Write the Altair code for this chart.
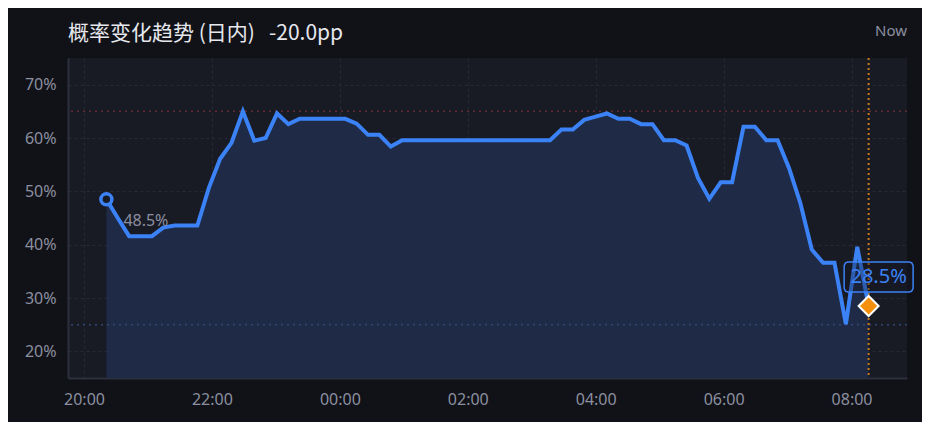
import altair as alt
import pandas as pd

# ---- data ----
values = [48.5, 45.0, 41.6, 41.6, 41.6, 43.2, 43.6, 43.6, 43.6, 50.6,
          56.1, 59.1, 65.0, 59.5, 60.0, 64.6, 62.6, 63.6, 63.6, 63.6,
          63.6, 63.6, 62.7, 60.6, 60.6, 58.4, 59.6, 59.6, 59.6, 59.6,
          59.6, 59.6, 59.6, 59.6, 59.6, 59.6, 59.6, 59.6, 59.6, 59.6,
          61.6, 61.6, 63.4, 64.0, 64.6, 63.6, 63.6, 62.6, 62.6, 59.6,
          59.6, 58.6, 52.5, 48.6, 51.7, 51.7, 62.1, 62.1, 59.6, 59.6,
          54.4, 47.8, 39.1, 36.6, 36.6, 25.1, 39.6, 28.5]
start_time = "2024-05-01 20:21"
end_time = "2024-05-02 08:16"
x_ticks = [(1, 20), (1, 22), (2, 0), (2, 2), (2, 4), (2, 6), (2, 8)]
y_ticks = [20, 30, 40, 50, 60, 70]
y_domain = [15, 75]
upper_ref = 65
lower_ref = 25
title_text = "概率变化趋势\u00a0(日内)\u00a0\u00a0\u00a0-20.0pp"
now_text = "Now"

times = pd.date_range(start_time, end_time, periods=len(values)).round("s")
df = pd.DataFrame({"t": times.strftime("%Y-%m-%dT%H:%M:%S"), "v": values})
first = df.iloc[[0]].copy()
first["label"] = [f"{x:.1f}%" for x in first["v"]]
last = df.iloc[[-1]].copy()
last["label"] = [f"{x:.1f}%" for x in last["v"]]
hrefs = pd.DataFrame({"v": [upper_ref, lower_ref], "kind": ["up", "low"]})

x_domain = [alt.DateTime(year=2024, month=5, date=1, hours=19, minutes=45),
            alt.DateTime(year=2024, month=5, date=2, hours=8, minutes=52)]
x_values = [alt.DateTime(year=2024, month=5, date=d, hours=h) for d, h in x_ticks]

FONT = "Noto Sans"
LINE = "#3b82f6"
GRAY = "#8b8fa0"

x_enc = alt.X("t:T", scale=alt.Scale(domain=x_domain),
              axis=alt.Axis(format="%H:%M", values=x_values,
                            title=None, labelFontSize=16, labelColor=GRAY, labelFont=FONT,
                            labelPadding=13, ticks=False, grid=True, gridColor="#262936",
                            gridDash=[3, 3], gridWidth=1, domainColor="#2c303d", domainWidth=2))
y_enc = alt.Y("v:Q", scale=alt.Scale(domain=y_domain, nice=False, zero=False),
              axis=alt.Axis(values=y_ticks, labelExpr="datum.value + '%'",
                            title=None, labelFontSize=16, labelColor=GRAY, labelFont=FONT,
                            labelPadding=12, ticks=False, grid=True, gridColor="#262936",
                            gridDash=[3, 3], gridWidth=1, domainColor="#2c303d", domainWidth=2))

base = alt.Chart(df)

area = base.mark_area(color="#1e2a46", opacity=1, clip=True).encode(
    x=x_enc, y=y_enc, y2=alt.datum(y_domain[0]))

ref_rules = alt.Chart(hrefs).mark_rule(strokeDash=[2, 4], strokeWidth=1.5).encode(
    y="v:Q",
    color=alt.Color("kind:N", scale=alt.Scale(domain=["up", "low"], range=["#5e2c33", "#2e4775"]),
                    legend=None),
)

now_rule = alt.Chart(last).mark_rule(color="#c77a1a", strokeDash=[2, 3], strokeWidth=2).encode(x="t:T")

line = base.mark_line(color=LINE, strokeWidth=4).encode(x="t:T", y="v:Q")

start_pt = alt.Chart(first).mark_point(shape="circle", size=120, filled=True, fill="#181a24",
                                       stroke=LINE, strokeWidth=3.5, opacity=1).encode(
    x="t:T", y="v:Q")

start_lbl = alt.Chart(first).mark_text(align="left", baseline="alphabetic", dx=17, dy=27,
                                       fontSize=16, font=FONT, color=GRAY).encode(
    x="t:T", y="v:Q", text="label:N")

box_path = ("M-0.89,-0.435 L0.89,-0.435 L0.96,-0.41 L1,-0.33 L1,0.33 L0.96,0.41 L0.89,0.435 "
            "L-0.89,0.435 L-0.96,0.41 L-1,0.33 L-1,-0.33 L-0.96,-0.41 Z")
end_box = alt.Chart(last).mark_point(shape=box_path, size=69 * 69, filled=True, fill="#141824",
                                     fillOpacity=0.35, stroke=LINE, strokeWidth=1.5,
                                     opacity=1, xOffset=10, yOffset=-29).encode(x="t:T", y="v:Q")

end_pt = alt.Chart(last).mark_point(shape="diamond", size=400, filled=True, fill="#f5900c",
                                    stroke="white", strokeWidth=2, opacity=1).encode(x="t:T", y="v:Q")

end_lbl = alt.Chart(last).mark_text(align="center", baseline="alphabetic", dx=10, dy=-23,
                                    fontSize=20, font=FONT, color=LINE).encode(
    x="t:T", y="v:Q", text="label:N")

now_lbl = alt.Chart(last).mark_text(align="right", baseline="alphabetic", fontSize=15, font=FONT,
                                    color=GRAY, text=now_text).encode(
    x=alt.value(839), y=alt.value(-22))

title_lbl = alt.Chart(first).mark_text(align="left", baseline="alphabetic", fontSize=21,
                                       font="Noto Sans CJK SC", color="#e6e8ee",
                                       text=title_text).encode(
    x=alt.value(0), y=alt.value(-18.5))

chart = alt.layer(area, ref_rules, now_rule, line, start_pt, start_lbl, end_box, end_pt, end_lbl,
                  now_lbl, title_lbl).properties(
    width=839, height=320,
    padding={"left": 60, "top": 50, "right": 15, "bottom": 44},
    autosize=alt.AutoSizeParams(type="none"),
    background="#111217",
).configure_view(fill="#181a24", stroke=None)

chart.save("out.html", embed_options={"renderer": "svg", "actions": False})
